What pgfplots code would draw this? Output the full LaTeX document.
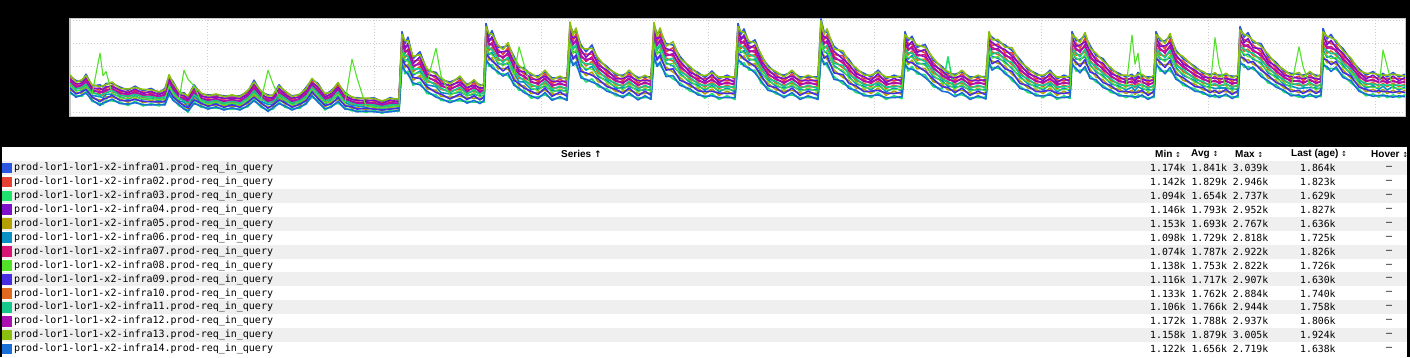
\documentclass[border=0pt]{standalone}
\usepackage{pgfplots}
\pgfplotsset{compat=1.18}
\usepackage{pgfplotstable}
\usepackage{fontspec}
\setmainfont{Liberation Sans}
\newfontfamily\mono{DejaVu Sans Mono}
\newfontfamily\sym{DejaVu Sans}
\definecolor{c1}{RGB}{40,85,225}
\definecolor{c2}{RGB}{228,65,50}
\definecolor{c3}{RGB}{30,225,110}
\definecolor{c4}{RGB}{125,15,205}
\definecolor{c5}{RGB}{180,160,0}
\definecolor{c6}{RGB}{10,145,195}
\definecolor{c7}{RGB}{215,20,115}
\definecolor{c8}{RGB}{80,225,40}
\definecolor{c9}{RGB}{70,45,225}
\definecolor{c10}{RGB}{225,105,30}
\definecolor{c11}{RGB}{20,200,140}
\definecolor{c12}{RGB}{170,15,175}
\definecolor{c13}{RGB}{140,190,15}
\definecolor{c14}{RGB}{25,110,215}
\definecolor{rowgray}{RGB}{239,239,239}
\definecolor{gridgray}{RGB}{205,205,205}
\definecolor{framegray}{RGB}{200,200,200}
\pgfplotstableread{
x s1 s2 s3 s4 s5 s6 s7 s8 s9 s10 s11 s12 s13 s14
70 1.79 1.75 1.41 1.72 1.49 1.56 1.66 1.58 1.53 1.61 1.64 1.69 1.82 1.45
76 1.69 1.60 1.36 1.63 1.43 1.48 1.58 1.46 1.40 1.53 1.51 1.55 1.66 1.33
82 1.68 1.65 1.35 1.62 1.42 1.48 1.57 1.50 1.45 1.53 1.55 1.60 1.71 1.38
86 1.83 1.73 1.46 1.76 1.54 1.59 1.70 1.57 1.50 1.65 1.62 1.67 1.80 1.42
92 1.57 1.54 1.24 1.51 1.31 1.37 1.46 1.39 1.34 1.42 1.44 1.49 1.60 1.27
100 1.60 1.49 1.19 1.53 1.27 1.34 1.46 2.29 1.23 1.40 1.37 1.43 1.56 1.15
103 1.55 1.51 1.17 1.48 1.25 1.32 1.42 1.80 1.29 1.37 1.40 1.45 1.58 1.21
106 1.63 1.53 1.26 1.56 1.34 1.39 1.50 1.89 1.30 1.45 1.42 1.47 1.60 1.22
112 1.63 1.59 1.25 1.56 1.33 1.40 1.50 1.42 1.37 1.45 1.48 1.53 1.66 1.29
120 1.55 1.46 1.22 1.49 1.29 1.34 1.44 1.32 1.26 1.39 1.37 1.41 1.52 1.19
128 1.48 1.45 1.15 1.42 1.22 1.28 1.37 1.30 1.25 1.33 1.35 1.40 1.51 1.18
135 1.57 1.48 1.24 1.51 1.31 1.36 1.46 1.34 1.28 1.41 1.39 1.43 1.54 1.21
143 1.47 1.44 1.14 1.41 1.21 1.27 1.36 1.29 1.24 1.32 1.34 1.39 1.50 1.17
151 1.52 1.43 1.19 1.46 1.26 1.31 1.41 1.29 1.23 1.36 1.34 1.38 1.49 1.16
159 1.43 1.40 1.14 1.38 1.20 1.25 1.33 1.27 1.23 1.29 1.31 1.35 1.45 1.17
165 1.52 1.43 1.19 1.46 1.26 1.31 1.41 1.29 1.23 1.36 1.34 1.38 1.49 1.16
169 1.78 1.75 1.37 1.71 1.45 1.53 1.65 1.56 1.49 1.59 1.62 1.68 1.82 1.41
173 1.67 1.57 1.30 1.60 1.38 1.43 1.54 1.41 1.34 1.49 1.46 1.51 1.64 1.26
179 1.43 1.40 1.14 1.38 1.20 1.25 1.33 1.27 1.23 1.29 1.31 1.35 1.45 1.17
184 1.43 1.34 1.10 1.37 1.17 1.22 1.32 1.92 1.14 1.27 1.25 1.29 1.40 1.07
188 1.33 1.30 1.00 1.27 1.07 1.13 1.22 1.72 1.10 1.18 1.20 1.25 1.36 1.03
194 1.60 1.50 1.23 1.53 1.31 1.36 1.47 1.58 1.27 1.42 1.39 1.44 1.57 1.19
201 1.40 1.37 1.11 1.35 1.17 1.22 1.30 1.24 1.20 1.26 1.28 1.32 1.42 1.14
208 1.38 1.31 1.10 1.33 1.16 1.20 1.28 1.18 1.13 1.24 1.22 1.26 1.36 1.07
216 1.38 1.35 1.09 1.33 1.15 1.20 1.28 1.22 1.18 1.24 1.26 1.30 1.40 1.12
224 1.36 1.29 1.08 1.31 1.14 1.18 1.26 1.16 1.11 1.22 1.20 1.24 1.34 1.05
232 1.36 1.33 1.07 1.31 1.13 1.18 1.26 1.20 1.16 1.22 1.24 1.28 1.38 1.10
240 1.36 1.29 1.08 1.31 1.14 1.18 1.26 1.16 1.11 1.22 1.20 1.24 1.34 1.05
248 1.45 1.42 1.12 1.39 1.19 1.25 1.34 1.27 1.22 1.30 1.32 1.37 1.48 1.15
254 1.70 1.59 1.29 1.63 1.37 1.44 1.56 1.41 1.33 1.50 1.47 1.53 1.66 1.25
261 1.44 1.41 1.11 1.38 1.18 1.24 1.33 1.26 1.21 1.29 1.31 1.36 1.47 1.14
268 1.38 1.29 1.05 1.32 1.12 1.17 1.27 1.92 1.09 1.22 1.20 1.24 1.35 1.02
273 1.36 1.33 1.07 1.31 1.13 1.18 1.26 1.62 1.16 1.22 1.24 1.28 1.38 1.10
279 1.60 1.50 1.23 1.53 1.31 1.36 1.47 1.34 1.27 1.42 1.39 1.44 1.57 1.19
285 1.44 1.41 1.11 1.38 1.18 1.24 1.33 1.26 1.21 1.29 1.31 1.36 1.47 1.14
292 1.36 1.29 1.08 1.31 1.14 1.18 1.26 1.16 1.11 1.22 1.20 1.24 1.34 1.05
300 1.38 1.35 1.09 1.33 1.15 1.20 1.28 1.22 1.18 1.24 1.26 1.30 1.40 1.12
306 1.54 1.45 1.21 1.48 1.28 1.33 1.43 1.31 1.25 1.38 1.36 1.40 1.51 1.18
312 1.71 1.67 1.33 1.64 1.41 1.48 1.58 1.50 1.45 1.53 1.56 1.61 1.74 1.37
318 1.63 1.53 1.26 1.56 1.34 1.39 1.50 1.37 1.30 1.45 1.42 1.47 1.60 1.22
325 1.38 1.35 1.05 1.32 1.12 1.18 1.27 1.20 1.15 1.23 1.25 1.30 1.41 1.08
331 1.47 1.38 1.14 1.41 1.21 1.26 1.36 1.24 1.18 1.31 1.29 1.33 1.44 1.11
338 1.61 1.58 1.20 1.54 1.28 1.36 1.48 1.39 1.32 1.42 1.45 1.51 1.65 1.24
345 1.43 1.34 1.10 1.37 1.17 1.22 1.32 1.20 1.14 1.27 1.25 1.29 1.40 1.07
352 1.32 1.29 1.03 1.27 1.09 1.14 1.22 2.16 1.12 1.18 1.20 1.24 1.34 1.06
357 1.32 1.25 1.04 1.27 1.10 1.14 1.22 1.75 1.07 1.18 1.16 1.20 1.30 1.01
366 1.29 1.26 1.00 1.24 1.06 1.11 1.19 1.13 1.09 1.15 1.17 1.21 1.31 1.03
374 1.32 1.25 1.04 1.27 1.10 1.14 1.22 1.12 1.07 1.18 1.16 1.20 1.30 1.01
382 1.22 1.20 0.98 1.18 1.03 1.07 1.14 1.09 1.05 1.11 1.13 1.16 1.25 1.00
390 1.32 1.25 1.04 1.27 1.10 1.14 1.22 1.12 1.07 1.18 1.16 1.20 1.30 1.01
399 1.26 1.24 1.02 1.22 1.07 1.11 1.18 1.13 1.09 1.15 1.17 1.20 1.29 1.04
402 2.76 2.58 2.10 2.65 2.24 2.34 2.54 2.30 2.18 2.44 2.39 2.49 2.70 2.04
405 2.50 2.45 1.84 2.38 1.98 2.10 2.29 2.14 2.04 2.19 2.24 2.34 2.56 1.90
408 2.64 2.44 1.90 2.51 2.05 2.17 2.38 2.11 1.98 2.28 2.22 2.33 2.57 1.83
413 2.17 2.12 1.59 2.06 1.70 1.81 1.98 1.85 1.76 1.89 1.94 2.02 2.22 1.64
420 2.32 2.14 1.66 2.21 1.80 1.90 2.10 1.86 1.74 2.00 1.95 2.05 2.26 1.60
427 1.91 1.87 1.41 1.82 1.51 1.60 1.75 1.64 1.56 1.67 1.71 1.78 1.95 1.46
436 1.87 1.74 1.38 1.79 1.48 1.56 1.70 2.40 1.43 1.63 1.59 1.67 1.83 1.33
441 1.71 1.68 1.26 1.63 1.35 1.43 1.57 1.80 1.40 1.50 1.53 1.60 1.75 1.30
450 1.66 1.55 1.25 1.59 1.33 1.40 1.52 1.37 1.29 1.46 1.43 1.49 1.62 1.21
460 1.75 1.71 1.25 1.66 1.35 1.44 1.59 1.48 1.40 1.51 1.55 1.62 1.79 1.30
467 1.61 1.51 1.24 1.54 1.32 1.37 1.48 1.35 1.28 1.43 1.40 1.45 1.58 1.20
474 1.67 1.64 1.22 1.59 1.31 1.39 1.53 1.43 1.36 1.46 1.49 1.56 1.71 1.26
480 1.60 1.50 1.23 1.53 1.31 1.36 1.47 1.34 1.27 1.42 1.39 1.44 1.57 1.19
484 1.60 1.56 1.22 1.53 1.30 1.37 1.47 1.39 1.34 1.42 1.45 1.50 1.63 1.26
486 2.94 2.74 2.20 2.81 2.35 2.47 2.68 2.41 2.28 2.58 2.52 2.63 2.87 2.13
489 2.66 2.61 2.00 2.54 2.14 2.26 2.45 2.30 2.20 2.35 2.40 2.50 2.72 2.06
492 2.78 2.58 2.04 2.65 2.19 2.31 2.52 2.25 2.12 2.42 2.36 2.47 2.71 1.97
498 2.42 2.37 1.84 2.31 1.95 2.06 2.23 2.10 2.01 2.14 2.19 2.27 2.47 1.89
503 2.42 2.26 1.84 2.32 1.96 2.05 2.22 2.01 1.90 2.14 2.09 2.18 2.37 1.79
508 2.46 2.41 1.80 2.34 1.94 2.06 2.25 2.10 2.00 2.15 2.20 2.30 2.52 1.86
514 2.22 2.06 1.64 2.12 1.76 1.85 2.02 1.81 1.70 1.94 1.89 1.98 2.17 1.59
519 1.98 1.94 1.48 1.89 1.58 1.67 1.82 2.43 1.63 1.74 1.78 1.85 2.02 1.53
524 1.97 1.84 1.48 1.89 1.58 1.66 1.80 2.05 1.53 1.73 1.69 1.77 1.93 1.43
531 1.81 1.77 1.31 1.72 1.41 1.50 1.65 1.54 1.46 1.57 1.61 1.68 1.85 1.36
538 1.79 1.67 1.34 1.72 1.44 1.51 1.64 1.47 1.39 1.57 1.54 1.61 1.75 1.30
545 1.88 1.84 1.38 1.79 1.48 1.57 1.72 1.61 1.53 1.64 1.68 1.75 1.92 1.43
552 1.75 1.63 1.30 1.68 1.40 1.47 1.60 1.43 1.35 1.53 1.50 1.57 1.71 1.26
560 1.75 1.72 1.30 1.67 1.39 1.47 1.61 1.51 1.44 1.54 1.57 1.64 1.79 1.34
567 1.75 1.63 1.30 1.68 1.40 1.47 1.60 1.43 1.35 1.53 1.50 1.57 1.71 1.26
570 2.90 2.84 2.16 2.77 2.31 2.44 2.66 2.50 2.38 2.55 2.61 2.71 2.97 2.23
573 2.74 2.56 2.08 2.63 2.22 2.32 2.52 2.28 2.16 2.42 2.37 2.47 2.68 2.02
576 2.77 2.71 2.03 2.64 2.18 2.31 2.53 2.37 2.25 2.42 2.48 2.58 2.84 2.10
581 2.47 2.29 1.81 2.36 1.95 2.05 2.25 2.01 1.89 2.15 2.10 2.20 2.41 1.75
586 2.32 2.27 1.66 2.20 1.80 1.92 2.11 1.96 1.86 2.01 2.06 2.16 2.38 1.72
592 2.47 2.27 1.73 2.34 1.88 2.00 2.21 1.94 1.81 2.11 2.05 2.16 2.40 1.66
598 2.14 2.09 1.56 2.03 1.67 1.78 1.95 1.82 1.73 1.86 1.91 1.99 2.19 1.61
607 2.00 1.87 1.51 1.92 1.61 1.69 1.83 1.65 1.56 1.76 1.72 1.80 1.96 1.46
616 1.81 1.78 1.36 1.73 1.45 1.53 1.67 1.57 1.50 1.60 1.63 1.70 1.85 1.40
623 1.81 1.69 1.36 1.74 1.46 1.53 1.66 1.49 1.41 1.59 1.56 1.63 1.77 1.32
629 1.88 1.84 1.38 1.79 1.48 1.57 1.72 1.61 1.53 1.64 1.68 1.75 1.92 1.43
638 1.76 1.64 1.31 1.69 1.41 1.48 1.61 1.44 1.36 1.54 1.51 1.58 1.72 1.27
645 1.77 1.74 1.32 1.69 1.41 1.49 1.63 1.53 1.46 1.56 1.59 1.66 1.81 1.36
651 1.77 1.65 1.32 1.70 1.42 1.49 1.62 1.45 1.37 1.55 1.52 1.59 1.73 1.28
654 2.89 2.83 2.15 2.76 2.30 2.43 2.65 2.49 2.37 2.54 2.60 2.70 2.96 2.22
657 2.72 2.54 2.06 2.61 2.20 2.30 2.50 2.26 2.14 2.40 2.35 2.45 2.66 2.00
660 2.77 2.71 2.03 2.64 2.18 2.31 2.53 2.37 2.25 2.42 2.48 2.58 2.84 2.10
666 2.50 2.32 1.84 2.39 1.98 2.08 2.28 2.04 1.92 2.18 2.13 2.23 2.44 1.78
673 2.47 2.41 1.73 2.34 1.88 2.01 2.23 2.07 1.95 2.12 2.18 2.28 2.54 1.80
680 2.22 2.06 1.64 2.12 1.76 1.85 2.02 1.81 1.70 1.94 1.89 1.98 2.17 1.59
690 1.96 1.92 1.46 1.87 1.56 1.65 1.80 1.69 1.61 1.72 1.76 1.83 2.00 1.51
698 1.87 1.75 1.42 1.80 1.52 1.59 1.72 1.55 1.47 1.65 1.62 1.69 1.83 1.38
705 1.76 1.73 1.31 1.68 1.40 1.48 1.62 1.52 1.45 1.55 1.58 1.65 1.80 1.35
712 1.90 1.77 1.41 1.82 1.51 1.59 1.73 1.55 1.46 1.66 1.62 1.70 1.86 1.36
719 1.73 1.70 1.28 1.65 1.37 1.45 1.59 1.49 1.42 1.52 1.55 1.62 1.77 1.32
727 1.81 1.69 1.36 1.74 1.46 1.53 1.66 1.49 1.41 1.59 1.56 1.63 1.77 1.32
735 1.73 1.70 1.28 1.65 1.37 1.45 1.59 1.49 1.42 1.52 1.55 1.62 1.77 1.32
738 2.94 2.74 2.20 2.81 2.35 2.47 2.68 2.41 2.28 2.58 2.52 2.63 2.87 2.13
741 2.70 2.65 2.04 2.58 2.18 2.30 2.49 2.34 2.24 2.39 2.44 2.54 2.76 2.10
744 2.82 2.62 2.08 2.69 2.23 2.35 2.56 2.29 2.16 2.46 2.40 2.51 2.75 2.01
749 2.50 2.45 1.92 2.39 2.03 2.14 2.31 2.18 2.09 2.22 2.27 2.35 2.55 1.97
755 2.58 2.40 1.92 2.47 2.06 2.16 2.36 2.12 2.00 2.26 2.21 2.31 2.52 1.86
761 2.22 2.17 1.64 2.11 1.75 1.86 2.03 1.90 1.81 1.94 1.99 2.07 2.27 1.69
768 2.02 1.89 1.53 1.94 1.63 1.71 1.85 1.67 1.58 1.78 1.74 1.82 1.98 1.48
776 1.85 1.82 1.40 1.77 1.49 1.57 1.71 1.61 1.54 1.64 1.67 1.74 1.89 1.44
784 1.81 1.69 1.36 1.74 1.46 1.53 1.66 1.49 1.41 1.59 1.56 1.63 1.77 1.32
792 1.88 1.84 1.38 1.79 1.48 1.57 1.72 1.61 1.53 1.64 1.68 1.75 1.92 1.43
800 1.77 1.65 1.32 1.70 1.42 1.49 1.62 1.45 1.37 1.55 1.52 1.59 1.73 1.28
808 1.77 1.74 1.32 1.69 1.41 1.49 1.63 1.53 1.46 1.56 1.59 1.66 1.81 1.36
818 1.77 1.65 1.32 1.70 1.42 1.49 1.62 1.45 1.37 1.55 1.52 1.59 1.73 1.28
821 3.04 2.84 2.16 2.77 2.31 2.44 2.66 2.50 2.38 2.55 2.61 2.71 3.00 2.23
824 2.76 2.58 2.10 2.65 2.24 2.34 2.54 2.30 2.18 2.44 2.39 2.49 2.70 2.04
827 2.75 2.69 2.01 2.62 2.16 2.29 2.51 2.35 2.23 2.40 2.46 2.56 2.82 2.08
834 2.44 2.26 1.78 2.33 1.92 2.02 2.22 1.98 1.86 2.12 2.07 2.17 2.38 1.72
843 2.28 2.23 1.62 2.16 1.76 1.88 2.07 1.92 1.82 1.97 2.02 2.12 2.34 1.68
849 2.15 1.99 1.57 2.05 1.69 1.78 1.95 1.74 1.63 1.87 1.82 1.91 2.10 1.52
856 1.93 1.89 1.43 1.84 1.53 1.62 1.77 1.66 1.58 1.69 1.73 1.80 1.97 1.48
864 1.85 1.73 1.40 1.78 1.50 1.57 1.70 1.53 1.45 1.63 1.60 1.67 1.81 1.36
871 1.77 1.74 1.32 1.69 1.41 1.49 1.63 1.53 1.46 1.56 1.59 1.66 1.81 1.36
878 1.92 1.79 1.43 1.84 1.53 1.61 1.75 1.57 1.48 1.68 1.64 1.72 1.88 1.38
886 1.73 1.70 1.28 1.65 1.37 1.45 1.59 1.49 1.42 1.52 1.55 1.62 1.77 1.32
894 1.81 1.69 1.36 1.74 1.46 1.53 1.66 1.49 1.41 1.59 1.56 1.63 1.77 1.32
902 1.75 1.72 1.30 1.67 1.39 1.47 1.61 1.51 1.44 1.54 1.57 1.64 1.79 1.34
905 2.76 2.58 2.10 2.65 2.24 2.34 2.54 2.30 2.18 2.44 2.39 2.49 2.70 2.04
908 2.56 2.51 1.90 2.44 2.04 2.16 2.35 2.20 2.10 2.25 2.30 2.40 2.62 1.96
912 2.66 2.48 2.00 2.55 2.14 2.24 2.44 2.20 2.08 2.34 2.29 2.39 2.60 1.94
917 2.42 2.37 1.84 2.31 1.95 2.06 2.23 2.10 2.01 2.14 2.19 2.27 2.47 1.89
925 2.48 2.30 1.82 2.37 1.96 2.06 2.26 2.02 1.90 2.16 2.11 2.21 2.42 1.76
933 2.14 2.09 1.56 2.03 1.67 1.78 1.95 1.82 1.73 1.86 1.91 1.99 2.19 1.61
942 2.00 1.87 1.51 1.92 1.61 1.69 1.83 1.65 1.56 1.76 1.72 1.80 1.96 1.46
948 1.85 1.82 2.21 1.77 1.49 1.57 1.71 1.61 1.54 1.64 1.67 1.74 1.89 1.44
955 1.83 1.71 1.38 1.76 1.48 1.55 1.68 1.51 1.43 1.61 1.58 1.65 1.79 1.34
962 1.88 1.84 1.38 1.79 1.48 1.57 1.72 1.61 1.53 1.64 1.68 1.75 1.92 1.43
970 1.77 1.65 1.32 1.70 1.42 1.49 1.62 1.45 1.37 1.55 1.52 1.59 1.73 1.28
978 1.77 1.74 1.32 1.69 1.41 1.49 1.63 1.53 1.46 1.56 1.59 1.66 1.81 1.36
986 1.78 1.66 1.33 1.71 1.43 1.50 1.63 1.46 1.38 1.56 1.53 1.60 1.74 1.29
989 2.70 2.65 2.04 2.58 2.18 2.30 2.49 2.34 2.24 2.39 2.44 2.54 2.76 2.10
992 2.64 2.46 1.98 2.53 2.12 2.22 2.42 2.18 2.06 2.32 2.27 2.37 2.58 1.92
998 2.54 2.49 1.96 2.43 2.07 2.18 2.35 2.22 2.13 2.26 2.31 2.39 2.59 2.01
1005 2.47 2.31 1.89 2.37 2.01 2.10 2.27 2.06 1.95 2.19 2.14 2.23 2.42 1.84
1012 2.35 2.30 1.69 2.23 1.83 1.95 2.14 1.99 1.89 2.04 2.09 2.19 2.41 1.75
1020 2.15 1.99 1.57 2.05 1.69 1.78 1.95 1.74 1.63 1.87 1.82 1.91 2.10 1.52
1028 1.93 1.89 1.43 1.84 1.53 1.62 1.77 1.66 1.58 1.69 1.73 1.80 1.97 1.48
1036 1.85 1.73 1.40 1.78 1.50 1.57 1.70 1.53 1.45 1.63 1.60 1.67 1.81 1.36
1043 1.77 1.74 1.32 1.69 1.41 1.49 1.63 1.53 1.46 1.56 1.59 1.66 1.81 1.36
1050 1.92 1.79 1.43 1.84 1.53 1.61 1.75 1.57 1.48 1.68 1.64 1.72 1.88 1.38
1057 1.73 1.70 1.28 1.65 1.37 1.45 1.59 1.49 1.42 1.52 1.55 1.62 1.77 1.32
1064 1.81 1.69 1.36 1.74 1.46 1.53 1.66 1.49 1.41 1.59 1.56 1.63 1.77 1.32
1070 1.75 1.72 1.30 1.67 1.39 1.47 1.61 1.51 1.44 1.54 1.57 1.64 1.79 1.34
1072 2.76 2.58 2.10 2.65 2.24 2.34 2.54 2.30 2.18 2.44 2.39 2.49 2.70 2.04
1076 2.56 2.51 1.90 2.44 2.04 2.16 2.35 2.20 2.10 2.25 2.30 2.40 2.62 1.96
1080 2.58 2.40 1.92 2.47 2.06 2.16 2.36 2.12 2.00 2.26 2.21 2.31 2.52 1.86
1085 2.67 2.61 1.93 2.54 2.08 2.21 2.43 2.27 2.15 2.32 2.38 2.48 2.74 2.00
1090 2.46 2.28 1.80 2.35 1.94 2.04 2.24 2.00 1.88 2.14 2.09 2.19 2.40 1.74
1096 2.24 2.19 1.66 2.13 1.77 1.88 2.05 1.92 1.83 1.96 2.01 2.09 2.29 1.71
1103 2.17 2.01 1.59 2.07 1.71 1.80 1.97 1.76 1.65 1.89 1.84 1.93 2.12 1.54
1111 1.93 1.89 1.43 1.84 1.53 1.62 1.77 1.66 1.58 1.69 1.73 1.80 1.97 1.48
1119 1.85 1.73 1.40 1.78 1.50 1.57 1.70 1.53 1.45 1.63 1.60 1.67 1.81 1.36
1126 1.77 1.74 1.32 1.69 1.41 1.49 1.63 1.53 1.46 1.56 1.59 1.66 1.81 1.36
1132 1.83 1.71 1.38 1.76 1.48 1.55 1.68 2.69 1.43 1.61 1.58 1.65 1.79 1.34
1135 1.75 1.72 1.30 1.67 1.39 1.47 1.61 2.05 1.44 1.54 1.57 1.64 1.79 1.34
1138 1.87 1.74 1.38 1.79 1.48 1.56 1.70 2.29 1.43 1.63 1.59 1.67 1.83 1.33
1142 1.79 1.76 1.34 1.71 1.43 1.51 1.65 1.55 1.48 1.58 1.61 1.68 1.83 1.38
1148 1.77 1.65 1.32 1.70 1.42 1.49 1.62 1.45 1.37 1.55 1.52 1.59 1.73 1.28
1154 1.77 1.74 1.32 1.69 1.41 1.49 1.63 1.53 1.46 1.56 1.59 1.66 1.81 1.36
1156 2.76 2.58 2.10 2.65 2.24 2.34 2.54 2.30 2.18 2.44 2.39 2.49 2.70 2.04
1160 2.56 2.51 1.90 2.44 2.04 2.16 2.35 2.20 2.10 2.25 2.30 2.40 2.62 1.96
1165 2.56 2.38 1.90 2.45 2.04 2.14 2.34 2.10 1.98 2.24 2.19 2.29 2.50 1.84
1170 2.65 2.59 1.91 2.52 2.06 2.19 2.41 2.25 2.13 2.30 2.36 2.46 2.72 1.98
1176 2.35 2.19 1.77 2.25 1.89 1.98 2.15 1.94 1.83 2.07 2.02 2.11 2.30 1.72
1183 2.17 2.12 1.59 2.06 1.70 1.81 1.98 1.85 1.76 1.89 1.94 2.02 2.22 1.64
1195 2.00 1.87 1.51 1.92 1.61 1.69 1.83 1.65 1.56 1.76 1.72 1.80 1.96 1.46
1203 1.85 1.82 1.40 1.77 1.49 1.57 1.71 1.61 1.54 1.64 1.67 1.74 1.89 1.44
1210 1.83 1.71 1.38 1.76 1.48 1.55 1.68 1.51 1.43 1.61 1.58 1.65 1.79 1.34
1215 1.83 1.79 1.33 1.74 1.43 1.52 1.67 2.63 1.48 1.59 1.63 1.70 1.87 1.38
1219 1.81 1.69 1.36 1.74 1.46 1.53 1.66 2.02 1.41 1.59 1.56 1.63 1.77 1.32
1226 1.81 1.78 1.36 1.73 1.45 1.53 1.67 1.57 1.50 1.60 1.63 1.70 1.85 1.40
1232 1.79 1.67 1.34 1.72 1.44 1.51 1.64 1.47 1.39 1.57 1.54 1.61 1.75 1.30
1238 1.78 1.75 1.33 1.70 1.42 1.50 1.64 1.54 1.47 1.57 1.60 1.67 1.82 1.37
1240 2.87 2.67 2.13 2.74 2.28 2.40 2.61 2.34 2.21 2.51 2.45 2.56 2.80 2.06
1244 2.64 2.59 1.98 2.52 2.12 2.24 2.43 2.28 2.18 2.33 2.38 2.48 2.70 2.04
1248 2.74 2.54 2.00 2.61 2.15 2.27 2.48 2.21 2.08 2.38 2.32 2.43 2.67 1.93
1253 2.52 2.47 1.94 2.41 2.05 2.16 2.33 2.20 2.11 2.24 2.29 2.37 2.57 1.99
1261 2.50 2.32 1.84 2.39 1.98 2.08 2.28 2.04 1.92 2.18 2.13 2.23 2.44 1.78
1268 2.22 2.17 1.64 2.11 1.75 1.86 2.03 1.90 1.81 1.94 1.99 2.07 2.27 1.69
1276 2.09 1.96 1.60 2.01 1.70 1.78 1.92 1.74 1.65 1.85 1.81 1.89 2.05 1.55
1284 1.89 1.86 1.44 1.81 1.53 1.61 1.75 1.65 1.58 1.68 1.71 1.78 1.93 1.48
1291 1.85 1.73 1.40 1.78 1.50 1.57 1.70 1.53 1.45 1.63 1.60 1.67 1.81 1.36
1299 1.83 1.79 1.33 1.74 1.43 1.52 1.67 2.43 1.48 1.59 1.63 1.70 1.87 1.38
1303 1.81 1.69 1.36 1.74 1.46 1.53 1.66 2.00 1.41 1.59 1.56 1.63 1.77 1.32
1310 1.85 1.81 1.35 1.76 1.45 1.54 1.69 1.58 1.50 1.61 1.65 1.72 1.89 1.40
1316 1.81 1.69 1.36 1.74 1.46 1.53 1.66 1.49 1.41 1.59 1.56 1.63 1.77 1.32
1321 1.79 1.76 1.34 1.71 1.43 1.51 1.65 1.55 1.48 1.58 1.61 1.68 1.83 1.38
1323 2.83 2.63 2.09 2.70 2.24 2.36 2.57 2.30 2.17 2.47 2.41 2.52 2.76 2.02
1327 2.60 2.55 1.94 2.48 2.08 2.20 2.39 2.24 2.14 2.29 2.34 2.44 2.66 2.00
1331 2.70 2.50 1.96 2.57 2.11 2.23 2.44 2.17 2.04 2.34 2.28 2.39 2.63 1.89
1336 2.52 2.47 1.94 2.41 2.05 2.16 2.33 2.20 2.11 2.24 2.29 2.37 2.57 1.99
1343 2.39 2.23 1.81 2.29 1.93 2.02 2.19 1.98 1.87 2.11 2.06 2.15 2.34 1.76
1351 2.14 2.10 1.64 2.05 1.74 1.83 1.98 1.87 1.79 1.90 1.94 2.01 2.18 1.69
1359 1.95 1.83 1.50 1.88 1.60 1.67 1.80 1.63 1.55 1.73 1.70 1.77 1.91 1.46
1366 1.81 1.78 1.36 1.73 1.45 1.53 1.67 1.57 1.50 1.60 1.63 1.70 1.85 1.40
1373 1.89 1.76 1.40 1.81 1.50 1.58 1.72 1.54 1.45 1.65 1.61 1.69 1.85 1.35
1379 1.78 1.75 1.33 1.70 1.42 1.50 1.64 1.54 1.47 1.57 1.60 1.67 1.82 1.37
1383 1.85 1.73 1.40 1.78 1.50 1.57 1.70 2.36 1.45 1.63 1.60 1.67 1.81 1.36
1387 1.77 1.74 1.32 1.69 1.41 1.49 1.63 2.02 1.46 1.56 1.59 1.66 1.81 1.36
1393 1.87 1.74 1.38 1.79 1.48 1.56 1.70 1.52 1.43 1.63 1.59 1.67 1.83 1.33
1399 1.77 1.74 1.32 1.69 1.41 1.49 1.63 1.53 1.46 1.56 1.59 1.66 1.81 1.36
1405 1.83 1.71 1.38 1.76 1.48 1.55 1.68 1.51 1.43 1.61 1.58 1.65 1.79 1.34
}\data
\begin{document}
\begin{tikzpicture}
\fill[black] (0pt,0pt) rectangle (1410pt,357pt);
\begin{axis}[
  at={(70pt,240.3pt)}, anchor=south west,
  width=1335.5pt, height=98.4pt, scale only axis,
  xmin=70, xmax=1405.5, ymin=0.904, ymax=3.052,
  axis background/.style={fill=white},
  axis line style={draw=framegray, line width=1.2pt},
  xtick={207,374,541,708,874,1041,1208,1375},
  ytick={1,1.5,2,2.5,3},
  xticklabels={}, yticklabels={},
  major tick length=0pt,
  grid=major,
  major grid style={draw=gridgray, line width=1pt, dash pattern=on 1pt off 2pt},
  every axis plot/.append style={line width=1.6pt, line join=round, no markers},
]
\addplot[c1] table[x=x,y=s1]{\data};
\addplot[c2] table[x=x,y=s2]{\data};
\addplot[c3] table[x=x,y=s3]{\data};
\addplot[c4] table[x=x,y=s4]{\data};
\addplot[c5] table[x=x,y=s5]{\data};
\addplot[c6] table[x=x,y=s6]{\data};
\addplot[c7] table[x=x,y=s7]{\data};
\addplot[c9] table[x=x,y=s9]{\data};
\addplot[c10] table[x=x,y=s10]{\data};
\addplot[c11] table[x=x,y=s11]{\data};
\addplot[c12] table[x=x,y=s12]{\data};
\addplot[c13] table[x=x,y=s13]{\data};
\addplot[c14] table[x=x,y=s14]{\data};
\addplot[c8, line width=1.1pt] table[x=x,y=s8]{\data};
\end{axis}
\begin{scope}[x=1pt,y=1pt]
\fill[white] (2,0) rectangle (1407,210);
\node[anchor=west, inner sep=0pt, font=\bfseries\fontsize{10}{12}\selectfont] at (561,203) {Series {\sym\fontsize{9}{10}\selectfont ↑}};
\foreach \hx/\hlab in {1155/Min, 1191/Avg, 1235/Max, 1291/Last (age), 1371/Hover}
  \node[anchor=west, inner sep=0pt, font=\bfseries\fontsize{10}{12}\selectfont] at (\hx,203) {\hlab\ {\sym\mdseries\fontsize{7}{8}\selectfont ↕}};
\foreach \k/\n/\rc/\mn/\av/\mx/\ls in {
  1/01/rowgray/1.174k/1.841k/3.039k/1.864k,
  2/02/white/1.142k/1.829k/2.946k/1.823k,
  3/03/rowgray/1.094k/1.654k/2.737k/1.629k,
  4/04/white/1.146k/1.793k/2.952k/1.827k,
  5/05/rowgray/1.153k/1.693k/2.767k/1.636k,
  6/06/white/1.098k/1.729k/2.818k/1.725k,
  7/07/rowgray/1.074k/1.787k/2.922k/1.826k,
  8/08/white/1.138k/1.753k/2.822k/1.726k,
  9/09/rowgray/1.116k/1.717k/2.907k/1.630k,
  10/10/white/1.133k/1.762k/2.884k/1.740k,
  11/11/rowgray/1.106k/1.766k/2.944k/1.758k,
  12/12/white/1.172k/1.788k/2.937k/1.806k,
  13/13/rowgray/1.158k/1.879k/3.005k/1.924k,
  14/14/white/1.122k/1.656k/2.719k/1.638k}
{
  \pgfmathsetmacro\yc{189-(\k-1)*13.93}
  \pgfmathsetmacro\ytop{196-(\k-1)*13.93}
  \fill[\rc] (2,\ytop) rectangle (1407,\ytop-13.93);
  \fill[c\k] (2,\yc-5.3) rectangle (12,\yc+5.3);
  \node[anchor=west, inner sep=0pt, font=\mono\fontsize{10}{12}\selectfont] at (14,\yc) {prod-lor1-lor1-x2-infra\n.prod-req\_in\_query};
  \node[anchor=west, inner sep=0pt, font=\mono\fontsize{9.8}{12}\selectfont] at (1150,\yc) {\mn\ \av\ \mx};
  \node[anchor=west, inner sep=0pt, font=\mono\fontsize{9.8}{12}\selectfont] at (1300,\yc) {\ls};
  \node[anchor=center, inner sep=0pt, font=\mono\fontsize{10}{12}\selectfont] at (1389,\yc) {—};
}
\end{scope}
\pgfresetboundingbox
\path[use as bounding box] (0pt,0pt) rectangle (1410pt,357pt);
\end{tikzpicture}
\end{document}
